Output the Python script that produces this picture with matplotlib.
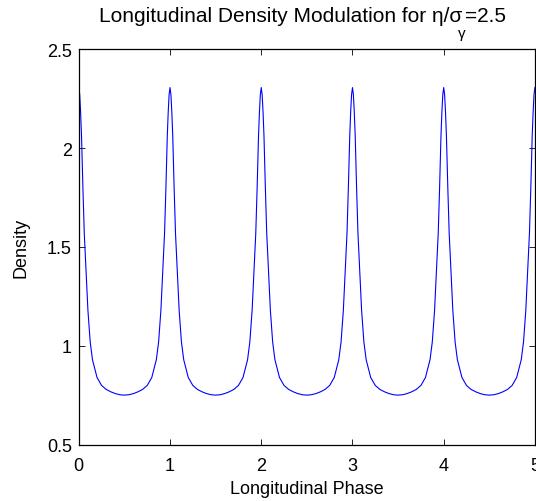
import numpy as np
import matplotlib
matplotlib.use("Agg")
import matplotlib.pyplot as plt

# ------------------------------------------------------------------------------------------
# values: one half period of the density profile,
# distance from a peak -> density (the curve is identical for every period)
half_offset = [0.0, 0.01, 0.02, 0.03, 0.045, 0.06, 0.08, 0.10, 0.125, 0.15,
               0.20, 0.25, 0.30, 0.35, 0.40, 0.45, 0.50]
half_density = [2.306, 2.27, 2.18, 2.06, 1.80, 1.57, 1.38, 1.18, 1.02, 0.93,
                0.84, 0.80, 0.78, 0.768, 0.759, 0.753, 0.751]
peak_phases = [0, 1, 2, 3, 4, 5]

x_ticks = [0, 1, 2, 3, 4, 5]
y_ticks = [0.5, 1, 1.5, 2, 2.5]
y_tick_labels = ["0.5", "1", "1.5", "2", "2.5"]

# ------------------------------------------------------------------------------------------
plt.rcParams.update({"font.family": ["Liberation Sans", "DejaVu Sans"],
                     "font.size": 13})

# build the curve: mirror the half profile around each peak
list_phase = []
list_density = []
for crrt_peak in peak_phases:
    # left side of the peak (rising)
    if crrt_peak > 0:
        for crrt_off, crrt_val in zip(half_offset[:0:-1], half_density[:0:-1]):
            if crrt_off == 0.5:
                continue  # already added as end of previous falling side
            list_phase.append(crrt_peak - crrt_off)
            list_density.append(crrt_val)
    # the peak itself
    list_phase.append(crrt_peak)
    list_density.append(half_density[0])
    # right side of the peak (falling)
    if crrt_peak < peak_phases[-1]:
        for crrt_off, crrt_val in zip(half_offset[1:], half_density[1:]):
            list_phase.append(crrt_peak + crrt_off)
            list_density.append(crrt_val)

array_phase = np.array(list_phase)
array_density = np.array(list_density)

fig = plt.figure(figsize=(5.36, 5.02), dpi=100)
ax = fig.add_axes([0.147, 0.112, 0.851, 0.788])

ax.plot(array_phase, array_density, color=(0, 0, 1), linewidth=0.8)

ax.set_xlim(0, 5)
ax.set_ylim(0.5, 2.5)
ax.set_xticks(x_ticks)
ax.set_yticks(y_ticks)
ax.set_yticklabels(y_tick_labels)
ax.tick_params(direction="in", top=True, right=True, length=4, width=0.6)
ax.tick_params(axis="x", pad=8.5)
ax.tick_params(axis="y", pad=5)
for crrt_spine in ax.spines.values():
    crrt_spine.set_linewidth(0.9)

ax.set_xlabel("Longitudinal Phase", va="top")
ax.xaxis.set_label_coords(0.5, -0.09)
ax.set_ylabel("Density")
ax.yaxis.set_label_coords(-0.108, 0.5)

# title in three pieces so that the gamma subscript sits low like in the original
t1 = fig.text(0.185, 0.957, "Longitudinal Density Modulation for \u03b7/\u03c3",
              fontsize=15, va="baseline", ha="left")
t2 = ax.annotate("\u03b3", xy=(1, 0), xycoords=t1, xytext=(-3, -1),
                 textcoords="offset points", fontsize=11, va="top", ha="left",
                 annotation_clip=False)
t3 = ax.annotate("=2.5", xy=(1, 0), xycoords=(t2, t1), xytext=(-0.5, 0),
                 textcoords="offset points", fontsize=15, va="bottom", ha="left",
                 annotation_clip=False)

fig.savefig("out.png", dpi=100)
